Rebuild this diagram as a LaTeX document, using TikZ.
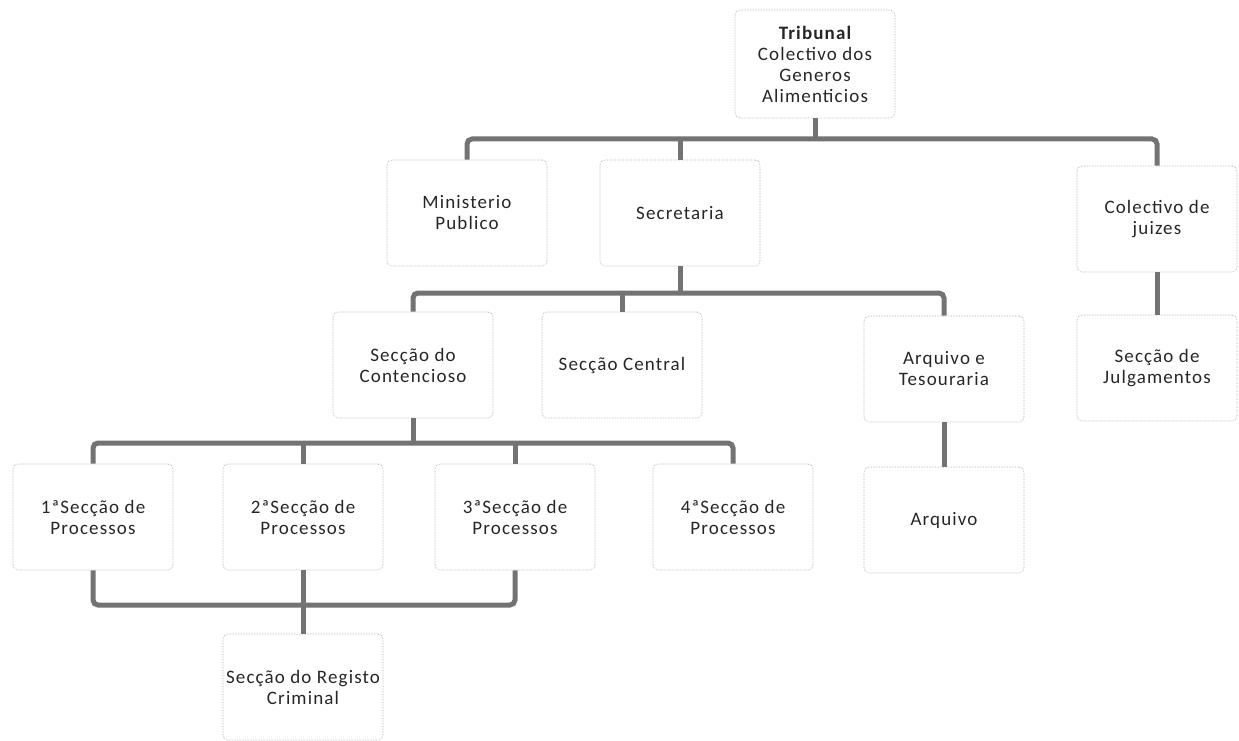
\documentclass[tikz,border=0pt]{standalone}
\usepackage{fontspec}
\setmainfont[LetterSpace=6]{Carlito}
\begin{document}
\begin{tikzpicture}[x=1pt,y=-1pt,
  unit/.style={draw=black!35, densely dotted, line width=0.6pt, rounded corners=5pt,
    minimum width=160pt, minimum height=106pt, align=center, inner sep=2pt,
    text=black!85, font=\fontsize{19}{21}\selectfont},
  link/.style={draw=black!55, line width=5pt, rounded corners=5pt}]
\useasboundingbox (0,0) rectangle (1239,741);

% top level
\node[unit, minimum height=108pt] (trib) at (815,64) {\bfseries Tribunal\\Colectivo dos\\Generos\\Alimenticios};

% second level
\node[unit] (min) at (467,213) {Ministerio\\Publico};
\node[unit] (sec) at (680,213) {Secretaria};
\node[unit] (col) at (1157,219) {Colectivo de\\juizes};
\node[unit] (jul) at (1157,368) {Secção de\\Julgamentos};

% sections under the secretariat
\node[unit] (con) at (413,365) {Secção do\\Contencioso};
\node[unit] (cen) at (622,365) {Secção Central};
\node[unit] (tes) at (944,369) {Arquivo e\\Tesouraria};
\node[unit] (arq) at (944,520) {Arquivo};

% process sections
\node[unit] (p1) at (93,517) {1ªSecção de\\Processos};
\node[unit] (p2) at (303,517) {2ªSecção de\\Processos};
\node[unit] (p3) at (515,517) {3ªSecção de\\Processos};
\node[unit] (p4) at (733,517) {4ªSecção de\\Processos};
\node[unit] (reg) at (303,687) {Secção do Registo\\Criminal};

% bus levels
\coordinate (b1) at (0,139);
\coordinate (b2) at (0,293);
\coordinate (b3) at (0,443);
\coordinate (b4) at (0,605);

% connectors
\draw[link] (min.north) |- (b1 -| col.north) -- (col.north);
\draw[link] (trib.south) -- (trib.south |- b1);
\draw[link] (sec.north) -- (sec.north |- b1);
\draw[link] (col.south) -- (jul.north);

\draw[link] (con.north) |- (b2 -| tes.north) -- (tes.north);
\draw[link] (sec.south) -- (sec.south |- b2);
\draw[link] (cen.north) -- (cen.north |- b2);
\draw[link] (tes.south) -- (arq.north);

\draw[link] (p1.north) |- (b3 -| p4.north) -- (p4.north);
\draw[link] (con.south) -- (con.south |- b3);
\draw[link] (p2.north) -- (p2.north |- b3);
\draw[link] (p3.north) -- (p3.north |- b3);

\draw[link] (p1.south) |- (b4 -| p3.south) -- (p3.south);
\draw[link] (p2.south) -- (reg.north);
\end{tikzpicture}
\end{document}
